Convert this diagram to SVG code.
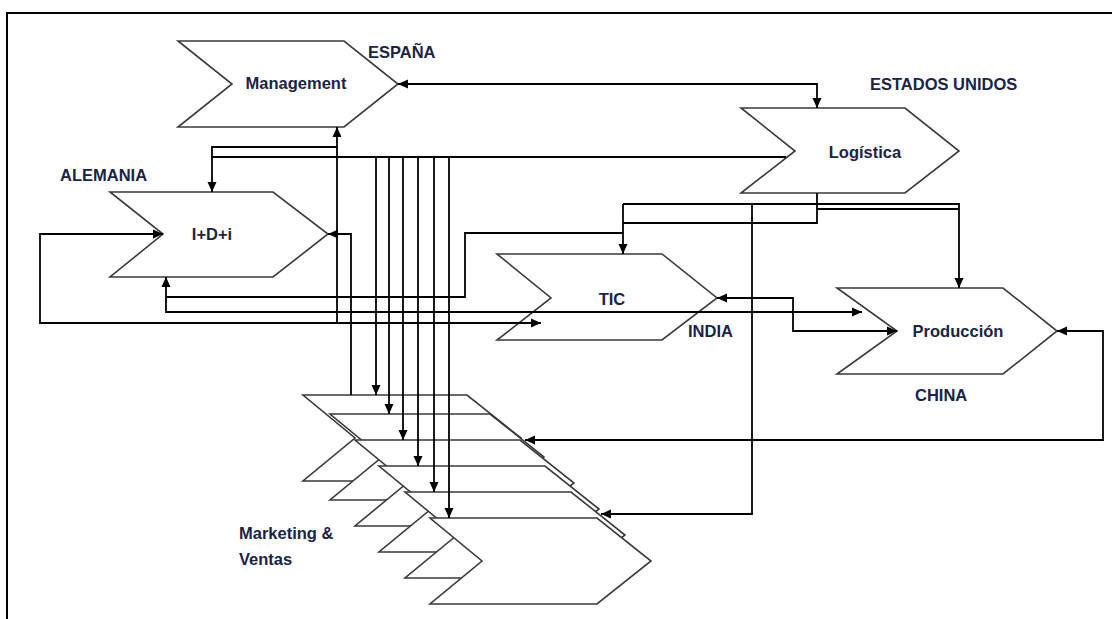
<svg xmlns="http://www.w3.org/2000/svg" width="1112" height="619" viewBox="0 0 1112 619">
  <style>
    .shape { fill: #ffffff; stroke: #3a3a3a; stroke-width: 1.6; stroke-linejoin: miter; }
    .conn { fill: none; stroke: #000000; stroke-width: 1.8; }
    .lbl { font-family: "Liberation Sans", Arial, sans-serif; font-weight: bold; font-size: 16.5px; fill: #1b2346; }
    .mid { text-anchor: middle; }
    .frame { fill: none; stroke: #000000; stroke-width: 2; }
  </style>
  <defs>
    <marker id="arr" markerUnits="userSpaceOnUse" markerWidth="11" markerHeight="11" refX="10" refY="5" orient="auto-start-reverse">
      <path d="M0,0.5 L10,5 L0,9.5 z" fill="#000000"/>
    </marker>
  </defs>
  <rect width="1112" height="619" fill="#ffffff"/>
  <path class="frame" d="M7,625 V13 H1120"/>

  <g id="management">
    <polygon class="shape" points="178,41 344,41 398,84 344,127 178,127 232,84"/>
    <text class="lbl mid" x="296" y="89">Management</text>
    <text class="lbl" x="368" y="58">ESPAÑA</text>
  </g>
  <g id="logistica">
    <polygon class="shape" points="741,108 905,108 959,151 905,193 741,193 795,151"/>
    <text class="lbl mid" x="865" y="158">Logística</text>
    <text class="lbl" x="870" y="90">ESTADOS UNIDOS</text>
  </g>
  <g id="idi">
    <polygon class="shape" points="110,192 273,192 328,234 273,277 110,277 163,234"/>
    <text class="lbl mid" x="212" y="240">I+D+i</text>
    <text class="lbl" x="60" y="181">ALEMANIA</text>
  </g>
  <g id="tic">
    <polygon class="shape" points="497,254 662,254 717,298 662,340 497,340 551,298"/>
    <text class="lbl mid" x="612" y="305">TIC</text>
    <text class="lbl" x="688" y="337">INDIA</text>
  </g>
  <g id="produccion">
    <polygon class="shape" points="837,288 1003,288 1057,331 1003,374 837,374 897,331"/>
    <text class="lbl mid" x="958" y="337">Producción</text>
    <text class="lbl" x="915" y="401">CHINA</text>
  </g>
  <g id="marketing">
    <polygon class="shape" points="303,395 467,395 521,438 467,481 303,481 355,438"/>
    <polygon class="shape" points="330,414 490,414 544,457 490,500 330,500 382,457"/>
    <polygon class="shape" points="355,440 520,440 574,483 520,526 355,526 407,483"/>
    <polygon class="shape" points="379,466 545,466 599,509 545,552 379,552 431,509"/>
    <polygon class="shape" points="405,492 571,492 625,535 571,578 405,578 457,535"/>
    <polygon class="shape" points="430,518 597,518 651,561 597,604 430,604 482,561"/>
    <text class="lbl" x="239" y="539">Marketing &amp;</text>
    <text class="lbl" x="239" y="565">Ventas</text>
  </g>

  <g id="connectors">
    <path class="conn" d="M398,84 H817 V108" marker-start="url(#arr)" marker-end="url(#arr)"/>
    <path class="conn" d="M786,157 H212 V192" marker-end="url(#arr)"/>
    <path class="conn" d="M337,147 H212 V157"/>
    <path class="conn" d="M376,157 V395" marker-end="url(#arr)"/>
    <path class="conn" d="M389,157 V414" marker-end="url(#arr)"/>
    <path class="conn" d="M403,157 V440" marker-end="url(#arr)"/>
    <path class="conn" d="M418,157 V466" marker-end="url(#arr)"/>
    <path class="conn" d="M434,157 V492" marker-end="url(#arr)"/>
    <path class="conn" d="M449,157 V518" marker-end="url(#arr)"/>
    <path class="conn" d="M337,127 V323" marker-start="url(#arr)"/>
    <path class="conn" d="M163,234 H40 V323 H541" marker-start="url(#arr)" marker-end="url(#arr)"/>
    <path class="conn" d="M328,234 H351 V395" marker-start="url(#arr)"/>
    <path class="conn" d="M166,277 V312 H862" marker-start="url(#arr)" marker-end="url(#arr)"/>
    <path class="conn" d="M166,297 H465 V233 H623"/>
    <path class="conn" d="M623,204 V254" marker-end="url(#arr)"/>
    <path class="conn" d="M623,204 H959 V288" marker-end="url(#arr)"/>
    <path class="conn" d="M817,193 V223 H623"/>
    <path class="conn" d="M817,209 H959"/>
    <path class="conn" d="M752,204 V514 H601" marker-end="url(#arr)"/>
    <path class="conn" d="M717,298 H793 V331 H897" marker-start="url(#arr)" marker-end="url(#arr)"/>
    <path class="conn" d="M1057,331 H1103 V440 H525" marker-start="url(#arr)" marker-end="url(#arr)"/>
  </g>
</svg>
